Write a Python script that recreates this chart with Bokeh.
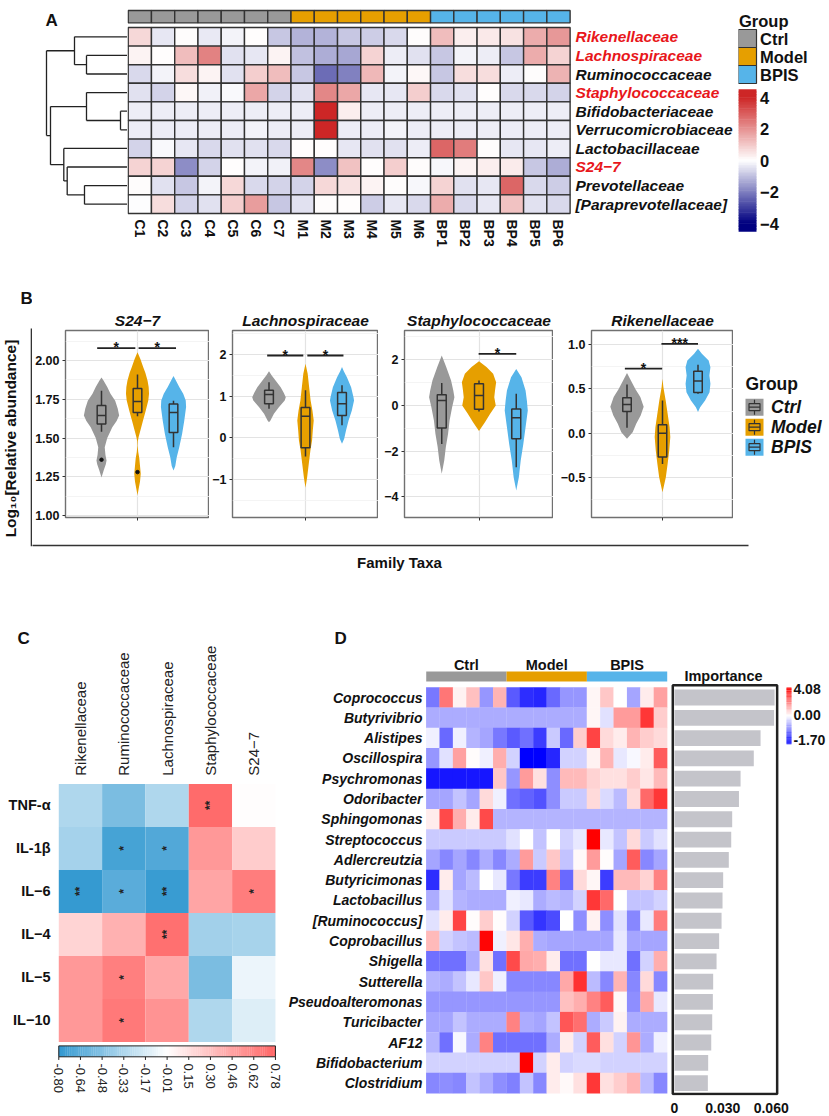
import numpy as np
from bokeh.plotting import figure
from bokeh.models import Range1d, FixedTicker, LinearColorMapper, ColumnDataSource
from bokeh.layouts import row, column
from bokeh.transform import transform
from bokeh.core.properties import value
from bokeh.embed import file_html
from bokeh.resources import INLINE

FONT = "Liberation Sans"
GROUP_COLORS = {"Ctrl": "#999999", "Model": "#E69F00", "BPIS": "#56B4E9"}
GROUPS = ["Ctrl", "Model", "BPIS"]

# ---------------------------------------------------------------- Panel A data
a_samples = ["C1", "C2", "C3", "C4", "C5", "C6", "C7", "M1", "M2", "M3", "M4", "M5", "M6",
             "BP1", "BP2", "BP3", "BP4", "BP5", "BP6"]
a_sample_groups = ["Ctrl", "Ctrl", "Ctrl", "Ctrl", "Ctrl", "Ctrl", "Ctrl",
                   "Model", "Model", "Model", "Model", "Model", "Model",
                   "BPIS", "BPIS", "BPIS", "BPIS", "BPIS", "BPIS"]
a_families = ["Rikenellaceae", "Lachnospiraceae", "Ruminococcaceae", "Staphylococcaceae",
              "Bifidobacteriaceae", "Verrucomicrobiaceae", "Lactobacillaceae", "S24\u22127",
              "Prevotellaceae", "[Paraprevotellaceae]"]
a_family_highlight = [True, True, False, True, False, False, False, True, False, False]
a_values = [
    [0.7, -0.4, 0.05, -0.35, -0.2, 0.0, -0.9, -1.2, -1.2, -0.9, -0.8, -0.6, 0.05, 1.2, 0.3, 0.4, 0.5, 1.5, 1.9],
    [0.2, 0.0, 1.2, 2.3, -0.5, -0.4, 0.2, -1.0, -1.3, -1.4, 0.8, -0.3, -0.5, -0.9, -0.2, -0.3, -0.9, 1.5, 0.8],
    [-0.6, -0.2, 0.6, 0.2, -0.5, 0.9, 1.2, -0.9, -2.3, -2.0, 1.3, -0.2, 0.15, -0.9, 0.6, 0.6, -0.3, 0.05, 1.4],
    [-0.5, -0.7, 0.15, -0.25, -0.1, 1.6, -0.7, -0.5, 2.2, 1.6, -0.4, -0.4, 0.9, -0.6, -0.5, 0.0, -0.6, -0.6, -0.7],
    [-0.3, -0.3, -0.3, -0.3, -0.3, -0.3, -0.3, -0.3, 4.0, 0.3, -0.3, -0.3, -0.3, -0.3, -0.3, -0.3, -0.3, -0.3, -0.3],
    [-0.3, -0.3, -0.3, -0.3, -0.3, -0.2, -0.3, -0.3, 4.0, -0.3, -0.3, -0.2, -0.3, -0.3, -0.3, -0.3, -0.3, -0.3, -0.3],
    [-0.7, -0.1, -0.4, -0.6, -0.5, -0.5, -0.6, 0.0, 0.0, -0.4, -0.5, -0.5, -0.3, 2.8, 2.4, 0.05, -0.4, -0.4, -0.3],
    [0.8, 0.8, -1.8, -0.7, 0.0, -0.2, -0.25, 2.2, -1.8, 1.1, 0.0, 0.9, 0.05, -0.15, 0.2, 0.3, 0.35, -0.9, -1.3],
    [0.05, -0.5, -0.9, -0.2, 0.7, -0.6, -0.7, -0.7, 0.7, 0.5, 0.2, 0.05, -0.15, 0.8, -0.5, -0.4, 2.8, -0.6, -0.8],
    [-0.05, 0.6, -0.7, -0.5, 0.9, 1.8, -0.9, -0.5, 0.05, 0.0, -0.8, -0.4, -0.6, 1.5, -0.6, -0.4, 1.1, -0.5, -0.6],
]
# dendrogram merges: (left node, right node, height); leaves 0..9, merged nodes numbered from 10
a_merges = [(4, 5, 0.7), (1, 2, 4.1), (8, 9, 4.3), (3, 10, 4.1), (0, 11, 5.3),
            (7, 12, 6.03), (6, 15, 6.37), (13, 16, 7.7), (14, 17, 8.1)]
a_scale_ticks = [4, 2, 0, -2, -4]
a_scale_labels = ["4", "2", "0", "\u22122", "\u22124"]

# ---------------------------------------------------------------- Panel B data
# violin outlines: (value, half-width in group units)
s24_profile = {
    "Ctrl": [(1.245, 0), (1.29, 0.06), (1.33, 0.12), (1.355, 0.14), (1.39, 0.11), (1.44, 0.09), (1.50, 0.16),
             (1.57, 0.30), (1.61, 0.42), (1.645, 0.49), (1.69, 0.45), (1.74, 0.38), (1.785, 0.25), (1.83, 0.16),
             (1.87, 0.06), (1.89, 0)],
    "Model": [(1.13, 0), (1.17, 0.03), (1.22, 0.07), (1.27, 0.09), (1.32, 0.07), (1.37, 0.05), (1.41, 0.02),
              (1.45, 0.005), (1.48, 0.01), (1.505, 0.03), (1.548, 0.08), (1.61, 0.15), (1.677, 0.23), (1.742, 0.30),
              (1.785, 0.32), (1.83, 0.31), (1.87, 0.28), (1.92, 0.22), (1.957, 0.16), (2.01, 0.08), (2.053, 0)],
    "BPIS": [(1.29, 0), (1.32, 0.05), (1.376, 0.09), (1.44, 0.16), (1.527, 0.24), (1.613, 0.30), (1.70, 0.35),
             (1.742, 0.34), (1.785, 0.27), (1.83, 0.16), (1.87, 0.07), (1.90, 0)],
}
lach_profile = {
    "Ctrl": [(0.375, 0), (0.416, 0.04), (0.576, 0.135), (0.735, 0.27), (0.896, 0.43), (0.975, 0.46), (1.09, 0.40),
             (1.215, 0.32), (1.376, 0.18), (1.50, 0.07), (1.60, 0)],
    "Model": [(-1.2, 0), (-0.945, 0.045), (-0.62, 0.09), (-0.30, 0.135), (-0.064, 0.18), (0.176, 0.20),
              (0.416, 0.225), (0.656, 0.19), (0.896, 0.14), (1.215, 0.10), (1.537, 0.06), (1.78, 0)],
    "BPIS": [(-0.14, 0), (-0.02, 0.06), (0.176, 0.11), (0.416, 0.18), (0.656, 0.27), (0.896, 0.33), (0.975, 0.315),
             (1.215, 0.25), (1.455, 0.135), (1.60, 0.05), (1.70, 0)],
}
staph_profile = {
    "Ctrl": [(-2.99, 0), (-2.41, 0.067), (-1.82, 0.11), (-1.24, 0.17), (-0.66, 0.21), (-0.07, 0.28), (0.36, 0.34),
             (0.656, 0.31), (1.09, 0.25), (1.68, 0.12), (2.19, 0)],
    "Model": [(-1.12, 0), (-0.73, 0.16), (-0.365, 0.30), (0.0, 0.45), (0.36, 0.41), (0.656, 0.43), (1.02, 0.46),
              (1.39, 0.38), (1.68, 0.20), (1.93, 0)],
    "BPIS": [(-3.72, 0), (-3.14, 0.07), (-2.41, 0.12), (-1.68, 0.19), (-0.95, 0.25), (-0.22, 0.31), (0.22, 0.285),
             (0.656, 0.25), (1.24, 0.14), (1.6, 0)],
}
rik_profile = {
    "Ctrl": [(-0.063, 0), (0.01, 0.16), (0.106, 0.26), (0.20, 0.385), (0.30, 0.47), (0.41, 0.375), (0.50, 0.235),
             (0.597, 0.11), (0.68, 0)],
    "Model": [(-0.668, 0), (-0.498, 0.094), (-0.347, 0.145), (-0.196, 0.19), (-0.045, 0.22), (0.068, 0.20),
              (0.22, 0.145), (0.37, 0.09), (0.52, 0.025), (0.616, 0)],
    "BPIS": [(0.238, 0), (0.294, 0.06), (0.37, 0.20), (0.464, 0.325), (0.56, 0.35), (0.653, 0.32), (0.747, 0.35),
             (0.823, 0.30), (0.90, 0.11), (0.956, 0)],
}
# box statistics: (lower whisker, Q1, median, Q3, upper whisker)
s24_box = {"Ctrl": (1.54, 1.59, 1.645, 1.71, 1.805), "Model": (1.64, 1.665, 1.735, 1.82, 1.91),
           "BPIS": (1.44, 1.535, 1.665, 1.72, 1.74)}
lach_box = {"Ctrl": (0.70, 0.82, 1.04, 1.14, 1.335), "Model": (-0.45, -0.24, 0.52, 0.73, 1.14),
            "BPIS": (0.30, 0.536, 0.82, 1.09, 1.26)}
staph_box = {"Ctrl": (-1.68, -0.99, 0.22, 0.47, 0.98), "Model": (-0.26, -0.17, 0.44, 0.95, 1.09),
             "BPIS": (-2.70, -1.46, -0.54, -0.15, 0.51)}
rik_box = {"Ctrl": (0.06, 0.245, 0.325, 0.40, 0.55), "Model": (-0.35, -0.27, 0.0, 0.095, 0.37),
           "BPIS": (0.445, 0.46, 0.59, 0.70, 0.775)}
s24_outliers = {"Ctrl": [1.36], "Model": [1.28], "BPIS": []}
lach_outliers = {"Ctrl": [], "Model": [], "BPIS": []}
staph_outliers = {"Ctrl": [], "Model": [], "BPIS": []}
rik_outliers = {"Ctrl": [], "Model": [], "BPIS": []}
# significance brackets: (x start, x end, height, label)
s24_sig = [(0.88, 1.94, 2.08, "*"), (2.03, 3.07, 2.08, "*")]
lach_sig = [(0.95, 1.94, 1.976, "*"), (2.05, 3.04, 1.976, "*")]
staph_sig = [(1.99, 3.0, 2.26, "*")]
rik_sig = [(0.94, 1.99, 0.73, "*"), (1.97, 3.0, 1.01, "***")]
s24_ticks = [1.00, 1.25, 1.50, 1.75, 2.00]
s24_tick_labels = ["1.00", "1.25", "1.50", "1.75", "2.00"]
lach_ticks = [-1, 0, 1, 2]
lach_tick_labels = ["\u22121", "0", "1", "2"]
staph_ticks = [-4, -2, 0, 2]
staph_tick_labels = ["\u22124", "\u22122", "0", "2"]
rik_ticks = [-0.5, 0.0, 0.5, 1.0]
rik_tick_labels = ["\u22120.5", "0.0", "0.5", "1.0"]

# ---------------------------------------------------------------- Panel C data
c_taxa = ["Rikenellaceae", "Ruminococcaceae", "Lachnospiraceae", "Staphylococcaceae", "S24\u22127"]
c_cytokines = ["TNF-\u03b1", "IL-1\u03b2", "IL\u22126", "IL\u22124", "IL\u22125", "IL\u221210"]
c_corr = [
    [-0.32, -0.52, -0.32, 0.75, 0.0],
    [-0.36, -0.72, -0.68, 0.52, 0.25],
    [-0.79, -0.65, -0.77, 0.45, 0.66],
    [0.21, 0.39, 0.73, -0.37, -0.35],
    [0.52, 0.65, 0.44, -0.52, -0.09],
    [0.52, 0.68, 0.54, -0.32, -0.14],
]
c_stars = [
    ["", "", "", "**", ""],
    ["", "*", "*", "", ""],
    ["**", "*", "**", "", "*"],
    ["", "", "**", "", ""],
    ["", "*", "", "", ""],
    ["", "*", "", "", ""],
]
c_scale_labels = ["-0.80", "-0.64", "-0.48", "-0.33", "-0.17", "-0.01", "0.15", "0.30", "0.46", "0.62", "0.78"]

# ---------------------------------------------------------------- Panel D data
d_genera = ["Coprococcus", "Butyrivibrio", "Alistipes", "Oscillospira", "Psychromonas", "Odoribacter",
            "Sphingomonas", "Streptococcus", "Adlercreutzia", "Butyricimonas", "Lactobacillus",
            "[Ruminococcus]", "Coprobacillus", "Shigella", "Sutterella", "Pseudoalteromonas",
            "Turicibacter", "AF12", "Bifidobacterium", "Clostridium"]
d_group_sizes = [6, 6, 6]
d_values = [
    [-0.9, 2.2, 0.2, 1.0, -0.7, 1.2, -1.1, -1.4, -1.45, -1.0, -0.7, -0.7, 0.15, 0.9, 0.0, -0.6, 0.3, 1.5],
    [-0.55, -0.55, -0.55, -0.55, -0.55, -0.55, -0.55, -0.55, -0.55, -0.55, -0.55, -0.55, 0.15, -0.2, 1.6, 1.6, 3.2, 0.8],
    [-0.1, -1.0, -0.1, -0.5, -0.6, -0.9, -1.1, -0.95, -1.3, -0.35, -1.0, 0.8, 3.0, 0.6, 0.3, 1.2, 0.8, 0.6],
    [-0.7, -0.2, 1.5, 0.05, -0.1, 1.3, -0.3, -1.7, -1.7, -1.45, -0.3, -0.3, 0.2, 1.2, -0.15, -0.05, 0.3, 2.6],
    [-1.55, -1.55, -1.55, -1.55, -1.55, 0.9, -0.7, 1.6, 0.5, -0.75, 1.1, 1.1, 0.7, 0.5, 0.5, 0.8, 0.4, 1.1],
    [-0.6, -0.6, -0.4, -0.6, 0.6, -0.1, -0.95, -1.05, -1.15, -0.75, -0.35, -0.35, 0.6, -0.25, -0.45, 0.6, 2.4, 3.2],
    [0.3, 2.9, 1.3, 0.3, 2.9, -0.5, -0.5, -0.5, -0.5, -0.5, -0.5, -0.5, -0.5, -0.5, -0.5, -0.5, -0.5, -0.5],
    [-0.35, -0.35, -0.35, -0.35, -0.35, -0.35, -0.2, 0.0, -0.4, 0.0, -0.3, -0.15, 4.08, -0.15, -0.4, 0.6, -0.35, -0.2],
    [-0.6, -0.8, -0.6, -0.8, -0.55, -0.8, -0.55, 1.6, -0.35, 0.9, -0.4, 0.1, 1.6, 0.05, -0.6, 2.6, -0.8, -0.6],
    [-1.4, 0.3, -0.6, -0.45, 0.0, -0.15, -0.9, -1.3, -1.3, 2.0, -1.0, 0.6, 0.15, -1.3, 1.1, 1.1, 0.7, 2.0],
    [-0.55, -0.2, -0.5, -0.55, -0.55, -0.55, -0.1, -0.15, -0.55, -0.45, -0.5, -0.3, 3.2, 2.4, 0.0, -0.4, -0.4, -0.3],
    [-0.2, 0.3, 3.0, 0.05, 0.8, 0.05, -0.3, -1.1, -1.35, -1.2, 0.0, -0.75, 0.2, -0.75, -0.2, -0.8, -0.15, 2.1],
    [1.1, -0.3, -0.4, -0.45, 4.0, -0.1, 0.4, 1.3, -0.55, -0.6, -0.6, -0.6, -0.6, -0.6, -0.15, -0.6, -0.6, -0.6],
    [-0.95, -0.95, -0.95, -0.55, 0.5, -0.95, 2.9, 1.4, 1.3, 0.3, -0.95, -0.95, 0.0, -0.15, -0.15, -0.95, -0.3, 1.3],
    [-0.5, -0.55, -0.4, -0.15, 0.9, -0.1, -0.8, -0.8, -0.8, -0.8, 1.4, 3.3, -0.45, -0.8, 1.2, -0.8, 0.6, -0.8],
    [-0.7, -0.7, -0.7, -0.7, -0.7, -0.7, -0.7, -0.7, -0.7, -0.7, 1.0, 1.3, 2.0, 2.6, 0.1, -0.75, 1.4, -0.15],
    [-0.6, -0.6, -0.4, -0.55, -0.55, -0.55, 2.0, -0.55, -0.6, -0.4, 2.7, 2.3, -0.55, -0.35, 0.2, -0.55, -0.55, -0.55],
    [-0.5, -0.95, -0.05, -0.55, 2.0, -0.95, -0.95, -0.95, -0.95, -0.55, 0.3, -0.3, 2.6, 0.5, -0.3, 1.7, -0.55, -0.1],
    [-0.3, -0.3, -0.3, -0.3, -0.3, -0.3, -0.3, 4.08, -0.3, 0.3, -0.3, -0.25, -0.25, -0.3, -0.3, -0.3, -0.3, -0.3],
    [-0.8, -0.75, -0.8, -0.4, -0.55, -0.75, -0.85, -0.4, -0.8, 0.3, 0.1, 0.5, 3.2, 0.5, 0.8, 1.2, -0.45, -0.8],
]
d_importance = [0.0621, 0.0618, 0.0534, 0.0492, 0.0410, 0.0400, 0.0358, 0.0352, 0.0337, 0.0302,
                0.0298, 0.0292, 0.0277, 0.0261, 0.0240, 0.0238, 0.0234, 0.0228, 0.0209, 0.0207]
d_imp_ticks = [0, 0.03, 0.06]
d_imp_labels = ["0", "0.030", "0.060"]
d_scale_low, d_scale_high = -1.70, 4.08


# ---------------------------------------------------------------- helpers
def hex2rgb(h):
    h = h.lstrip("#")
    return tuple(int(h[i:i + 2], 16) for i in (0, 2, 4))


def ramp(c0, c1, n):
    a, b = hex2rgb(c0), hex2rgb(c1)
    out = []
    for t in np.linspace(0, 1, n):
        out.append("#%02x%02x%02x" % tuple(int(round(a[i] + (b[i] - a[i]) * t)) for i in range(3)))
    return out


def base_fig(w, h, xr, yr, top=0, bottom=0):
    p = figure(width=w, height=h, x_range=xr, y_range=yr, output_backend="svg",
               toolbar_location=None, x_axis_location=None, y_axis_location=None,
               min_border_left=0, min_border_right=0, min_border_top=top, min_border_bottom=bottom,
               background_fill_color="white", border_fill_color="white")
    p.outline_line_color = None
    p.grid.visible = False
    return p


def txt(p, x, y, text, size, style="normal", color="#111111", align="left", baseline="middle",
        angle=0.0, **kw):
    p.text(x=list(x), y=list(y), text=list(text), text_font=value(FONT), text_font_size=size,
           text_font_style=style, text_color=color, text_align=align, text_baseline=baseline,
           angle=angle, **kw)


DARK = "#333333"

# ================================================================ Row A  (page y 0..252)
yrA = Range1d(12.097, -1.452)
nS, nF = len(a_samples), len(a_families)

dendA = base_fig(127, 252, Range1d(12.7, 0.0), yrA)
node_y = {i: i + 0.5 for i in range(nF)}
node_h = {i: 0.0 for i in range(nF)}
x0s, y0s, x1s, y1s = [], [], [], []
for k, (l, r, h) in enumerate(a_merges):
    n = nF + k
    node_y[n] = (node_y[l] + node_y[r]) / 2
    node_h[n] = h
    for (a0, b0, a1, b1) in [(h, node_y[l], h, node_y[r]),
                             (node_h[l], node_y[l], h, node_y[l]),
                             (node_h[r], node_y[r], h, node_y[r])]:
        x0s.append(a0); y0s.append(b0); x1s.append(a1); y1s.append(b1)
dendA.segment(x0=x0s, y0=y0s, x1=x1s, y1=y1s, line_color="#222222", line_width=1.3)
txt(dendA, [8.2], [-0.37], ["A"], "17px", "bold", "#111111")

heatA = base_fig(611, 252, Range1d(-0.03, 26.24), yrA)
palA = ramp("#000080", "#ffffff", 128) + ramp("#ffffff", "#cd2626", 129)[1:]
mapA = LinearColorMapper(palette=palA, low=-4, high=4)
xs, ys, vs = [], [], []
for r in range(nF):
    for c in range(nS):
        xs.append(c + 0.5); ys.append(r + 0.5); vs.append(a_values[r][c])
heatA.rect(x="x", y="y", width=1, height=1, source=ColumnDataSource(dict(x=xs, y=ys, v=vs)),
           fill_color=transform("v", mapA), line_color=DARK, line_width=1.4)
heatA.rect(x=[c + 0.5 for c in range(nS)], y=-0.582, width=1, height=0.664,
           fill_color=[GROUP_COLORS[g] for g in a_sample_groups], line_color=DARK, line_width=1.4)
txt(heatA, [19.23] * nF, [r + 0.5 for r in range(nF)], a_families, "15.5px", "bold italic",
    ["#e8161b" if hl else "#111111" for hl in a_family_highlight])
txt(heatA, [c + 0.5 for c in range(nS)], [10.32] * nS, a_samples, "14px", "bold", "#111111",
    angle=-np.pi / 2)

legA = base_fig(90, 252, Range1d(738, 828), Range1d(252, 0))
txt(legA, [738.5], [20], ["Group"], "16.5px", "bold", "#111111")
legA.quad(left=737.7, right=756, top=[29 + 18 * k for k in range(3)], bottom=[47 + 18 * k for k in range(3)],
          fill_color=[GROUP_COLORS[g] for g in GROUPS], line_color=DARK, line_width=1.2)
txt(legA, [759.5] * 3, [38 + 18 * k for k in range(3)], GROUPS, "16.5px", "bold", "#111111")
N = 90
step = 9.0 / N
lev = [4.5 - step * (k + 0.5) for k in range(N)]
srcA = ColumnDataSource(dict(v=lev, top=[160 - (v + step / 2) * 15.75 - 0.3 for v in lev],
                             bottom=[160 - (v - step / 2) * 15.75 + 0.3 for v in lev]))
legA.quad(left=737.7, right=756, top="top", bottom="bottom", source=srcA,
          fill_color=transform("v", mapA), line_color=None)
txt(legA, [759.5] * 5, [160 - v * 15.75 for v in a_scale_ticks], a_scale_labels, "16.5px", "bold", "#111111")

rowA = row(dendA, heatA, legA)

# ================================================================ Row B  (page y 252..577)
stripB = base_fig(32, 325, Range1d(0, 32), Range1d(577, 252))
stripB.segment(x0=[31], y0=[328], x1=[31], y1=[545.8], line_color=DARK, line_width=1.6)
txt(stripB, [9.5], [438], ["Log\u2081\u2080[Relative abundance]"], "15.5px", "bold", "#111111",
    align="center", angle=np.pi / 2)
txt(stripB, [20], [298], ["B"], "17px", "bold", "#111111")

B_TOP, B_BOT = 78, 26


def violin_panel(w, lb, yr, ticks, tick_labels, minors, title, prof, boxes, outl, sigs):
    p = figure(width=w, height=291, x_range=Range1d(0, 4), y_range=Range1d(*yr), output_backend="svg",
               toolbar_location=None, min_border_left=lb, min_border_right=0, min_border_top=B_TOP,
               min_border_bottom=B_BOT, title=title, background_fill_color="white", border_fill_color="white")
    p.title.align = "center"
    p.title.text_font = FONT
    p.title.text_font_size = "15.5px"
    p.title.text_font_style = "bold italic"
    p.title.text_color = "#111111"
    p.title.standoff = 4
    p.outline_line_color = "#707070"
    p.outline_line_width = 1.4
    tk = FixedTicker(ticks=ticks, minor_ticks=minors)
    p.yaxis.ticker = tk
    p.ygrid.ticker = tk
    p.yaxis.major_label_overrides = {t: l for t, l in zip(ticks, tick_labels)}
    p.yaxis.axis_line_color = None
    p.yaxis.major_tick_line_color = DARK
    p.yaxis.major_tick_out = 3
    p.yaxis.major_tick_in = 0
    p.yaxis.minor_tick_line_color = None
    p.yaxis.major_label_text_font = FONT
    p.yaxis.major_label_text_font_style = "bold"
    p.yaxis.major_label_text_font_size = "12.5px"
    p.yaxis.major_label_text_color = "#111111"
    p.yaxis.major_label_standoff = 2
    xt = FixedTicker(ticks=[2])
    p.xaxis.ticker = xt
    p.xgrid.ticker = xt
    p.xaxis.major_label_overrides = {2: ""}
    p.xaxis.axis_line_color = None
    p.xaxis.major_tick_line_color = DARK
    p.xaxis.major_tick_out = 3
    p.xaxis.major_tick_in = 0
    p.xaxis.minor_tick_line_color = None
    p.ygrid.grid_line_color = "#e3e3e3"
    p.ygrid.grid_line_width = 1.2
    p.ygrid.minor_grid_line_color = "#f1f1f1"
    p.ygrid.minor_grid_line_width = 0.8
    p.xgrid.grid_line_color = "#e3e3e3"
    p.xgrid.grid_line_width = 1.2
    for i, g in enumerate(GROUPS):
        c = i + 1
        yv = [a for a, b in prof[g]]
        wv = [b for a, b in prof[g]]
        p.harea(y=yv, x1=[c - b for b in wv], x2=[c + b for b in wv], fill_color=GROUP_COLORS[g],
                fill_alpha=1.0)
    for i, g in enumerate(GROUPS):
        c = i + 1
        lw, q1, md, q3, uw = boxes[g]
        bw = 0.12
        p.segment(x0=[c, c], y0=[q3, q1], x1=[c, c], y1=[uw, lw], line_color=DARK, line_width=1.5)
        p.quad(left=c - bw, right=c + bw, bottom=q1, top=q3, fill_color=GROUP_COLORS[g],
               line_color=DARK, line_width=1.5)
        p.segment(x0=[c - bw], y0=[md], x1=[c + bw], y1=[md], line_color=DARK, line_width=1.5)
        if outl[g]:
            p.scatter(x=[c] * len(outl[g]), y=outl[g], size=3.5, color="#111111")
    for (a, b, h, lab) in sigs:
        p.segment(x0=[a], y0=[h], x1=[b], y1=[h], line_color="#222222", line_width=1.8)
        txt(p, [(a + b) / 2], [h], [lab], "14px", "bold", "#111111", align="center", y_offset=-1)
    return p


v1 = violin_panel(177, 33, (0.987, 2.194), s24_ticks, s24_tick_labels,
                  [1.125, 1.375, 1.625, 1.875, 2.125], "S24\u22127", s24_profile, s24_box, s24_outliers, s24_sig)
v2 = violin_panel(169, 21, (-1.912, 2.576), lach_ticks, lach_tick_labels,
                  [-1.5, -0.5, 0.5, 1.5, 2.5], "Lachnospiraceae", lach_profile, lach_box, lach_outliers, lach_sig)
v3 = violin_panel(175, 26, (-4.90, 3.28), staph_ticks, staph_tick_labels,
                  [-5, -3, -1, 1, 3], "Staphylococcaceae", staph_profile, staph_box, staph_outliers, staph_sig)
v4 = violin_panel(180, 38, (-0.955, 1.162), rik_ticks, rik_tick_labels,
                  [-0.75, -0.25, 0.25, 0.75], "Rikenellaceae", rik_profile, rik_box, rik_outliers, rik_sig)

# legend B: same top/bottom borders as the violin panels, frame covers page y 330..517
legB = base_fig(95, 291, Range1d(733, 828), Range1d(517, 330), top=B_TOP, bottom=B_BOT)
txt(legB, [745], [383], ["Group"], "17.5px", "bold", "#111111")
for k, g in enumerate(GROUPS):
    yc = 406.7 + 20 * k
    legB.quad(left=745, right=763, top=yc - 8.5, bottom=yc + 8.5, fill_color=GROUP_COLORS[g], line_color=None)
    legB.segment(x0=[754, 754], y0=[yc - 7.5, yc + 3.5], x1=[754, 754], y1=[yc - 3.5, yc + 7.5],
                 line_color=DARK, line_width=1.2)
    legB.quad(left=748.5, right=759.5, top=yc - 3.5, bottom=yc + 3.5, fill_color=None, line_color=DARK,
              line_width=1.2)
    legB.segment(x0=[748.5], y0=[yc], x1=[759.5], y1=[yc], line_color=DARK, line_width=1.2)
txt(legB, [770.5] * 3, [406.7 + 20 * k for k in range(3)], GROUPS, "17.5px", "bold italic", "#111111")

botB = base_fig(796, 34, Range1d(32, 828), Range1d(577, 543))
botB.segment(x0=[30], y0=[545], x1=[748], y1=[545], line_color=DARK, line_width=1.6)
txt(botB, [399], [562], ["Family Taxa"], "15px", "bold", "#111111", align="center")

rowB = row(stripB, column(row(v1, v2, v3, v4, legB), botB))

# ================================================================ Row C / D  (page y 577..1115)
CD_H, CD_BOT = 538, 16          # all three figures share the bottom border -> frames 577..1099

# ---- C
figC = base_fig(285, CD_H, Range1d(-1.345, 5.232), Range1d(7.247, -4.80), bottom=CD_BOT)
palC = ramp("#3399d1", "#ffffff", 128) + ramp("#ffffff", "#ff6666", 129)[1:]
mapC = LinearColorMapper(palette=palC, low=-0.80, high=0.78)
xs, ys, vs, st = [], [], [], []
for r in range(len(c_cytokines)):
    for c in range(len(c_taxa)):
        xs.append(c + 0.5); ys.append(r + 0.5); vs.append(c_corr[r][c]); st.append(c_stars[r][c])
figC.rect(x="x", y="y", width=1, height=1, source=ColumnDataSource(dict(x=xs, y=ys, v=vs)),
          fill_color=transform("v", mapC), line_color=None)
txt(figC, xs, ys, st, "12px", "bold", "#222222", align="center", angle=np.pi / 2)
txt(figC, [c + 0.5 for c in range(len(c_taxa))], [-0.19] * len(c_taxa), c_taxa, "15px", "normal", "#222222",
    angle=np.pi / 2)
txt(figC, [-0.19] * len(c_cytokines), [r + 0.5 for r in range(len(c_cytokines))], c_cytokines, "14.5px",
    "bold", "#111111", align="right")
txt(figC, [-0.953], [-3.39], ["C"], "17px", "bold", "#111111")
NC = 100
levC = [-0.80 + 1.58 * (k + 0.5) / NC for k in range(NC)]
srcC = ColumnDataSource(dict(v=levC, l=[5.0 * k / NC - 0.003 for k in range(NC)],
                             r=[5.0 * (k + 1) / NC + 0.003 for k in range(NC)]))
figC.quad(left="l", right="r", top=6.093, bottom=6.347, source=srcC, fill_color=transform("v", mapC),
          line_color=None)
figC.quad(left=0, right=5, top=6.093, bottom=6.347, fill_color=None, line_color="#222222", line_width=1)
tick_x = [0.5 * i for i in range(len(c_scale_labels))]
figC.segment(x0=tick_x, y0=[6.347] * len(tick_x), x1=tick_x, y1=[6.42] * len(tick_x), line_color="#222222",
             line_width=1)
txt(figC, tick_x, [6.50] * len(tick_x), c_scale_labels, "13px", "normal", "#222222", angle=-np.pi / 2)

# ---- D heatmap
figD = base_fig(385, CD_H, Range1d(-10.51, 18.245), Range1d(20.11, -5.413), bottom=CD_BOT)
nD = sum(d_group_sizes)
palD = ramp("#0000ff", "#ffffff", 171) + ramp("#ffffff", "#ff0000", 409)[1:]
mapD = LinearColorMapper(palette=palD, low=d_scale_low, high=d_scale_high)
xs, ys, vs = [], [], []
for r in range(len(d_genera)):
    for c in range(nD):
        xs.append(c + 0.5); ys.append(r + 0.5); vs.append(d_values[r][c])
figD.rect(x="x", y="y", width=1.02, height=1.02, source=ColumnDataSource(dict(x=xs, y=ys, v=vs)),
          fill_color=transform("v", mapD), line_color=None)
starts = [0, 6, 12]
figD.quad(left=starts, right=[s + n for s, n in zip(starts, d_group_sizes)], top=-0.78, bottom=-0.29,
          fill_color=[GROUP_COLORS[g] for g in GROUPS], line_color=None)
txt(figD, [s + n / 2 for s, n in zip(starts, d_group_sizes)], [-1.11] * 3, GROUPS, "14.5px", "bold",
    "#111111", align="center")
txt(figD, [-0.28] * len(d_genera), [r + 0.5 for r in range(len(d_genera))], d_genera, "14px", "bold italic",
    "#111111", align="right")
txt(figD, [-6.85], [-2.43], ["D"], "17px", "bold", "#111111")

# ---- D importance
figI = figure(width=158, height=CD_H, x_range=Range1d(-0.00248, 0.09556), y_range=Range1d(20.11, -5.413),
              output_backend="svg", toolbar_location=None, y_axis_location=None,
              min_border_left=0, min_border_right=0, min_border_top=0, min_border_bottom=CD_BOT,
              background_fill_color="white", border_fill_color="white")
figI.outline_line_color = None
figI.grid.visible = False
figI.xaxis.ticker = FixedTicker(ticks=d_imp_ticks)
figI.xaxis.major_label_overrides = {t: l for t, l in zip(d_imp_ticks, d_imp_labels)}
figI.xaxis.axis_line_color = None
figI.xaxis.major_tick_line_color = None
figI.xaxis.minor_tick_line_color = None
figI.xaxis.major_label_standoff = 1
figI.xaxis.major_label_text_font = FONT
figI.xaxis.major_label_text_font_style = "bold"
figI.xaxis.major_label_text_font_size = "14px"
figI.xaxis.major_label_text_color = "#111111"
figI.hbar(y=[r + 0.5 for r in range(len(d_genera))], height=0.78, left=0, right=d_importance,
          fill_color="#c4c4ca", line_color=None)
figI.quad(left=-0.00106, right=0.0637, top=-0.098, bottom=20.03, fill_color=None, line_color="#222222",
          line_width=2.5)
txt(figI, [0.0304], [-0.57], ["Importance"], "14.5px", "bold", "#111111", align="center")
ND = 80
levD, topD, botD = [], [], []
for k in range(ND):
    t = (k + 0.5) / ND
    levD.append(d_scale_high * (1 - 2 * t) if t < 0.5 else d_scale_low * (2 * t - 1))
    topD.append(0.015 + 2.785 * k / ND - 0.005)
    botD.append(0.015 + 2.785 * (k + 1) / ND + 0.005)
figI.quad(left=0.0695, right=0.0726, top="t", bottom="b", source=ColumnDataSource(dict(v=levD, t=topD, b=botD)),
          fill_color=transform("v", mapD), line_color=None)
txt(figI, [0.0738] * 3, [0.064, 1.38, 2.59], ["4.08", "0.00", "-1.70"], "14px", "bold", "#111111")

rowCD = row(figC, figD, figI)

layout = column(rowA, rowB, rowCD)
open("out.html", "w").write(file_html(layout, INLINE))
